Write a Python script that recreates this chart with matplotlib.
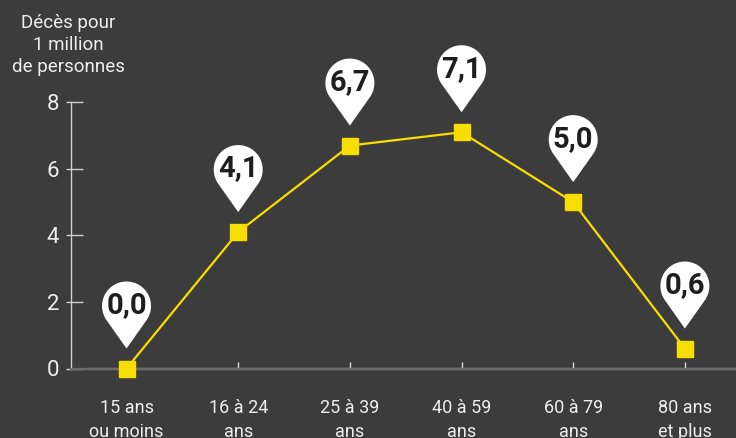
import matplotlib
matplotlib.use("Agg")
import matplotlib.pyplot as plt
import matplotlib.transforms as mtransforms
from matplotlib.path import Path
from matplotlib.patches import PathPatch
import numpy as np

categories = ["15 ans\nou moins", "16 à 24\nans", "25 à 39\nans", "40 à 59\nans", "60 à 79\nans", "80 ans\net plus"]
values = [0.0, 4.1, 6.7, 7.1, 5.0, 0.6]
labels = ["0,0", "4,1", "6,7", "7,1", "5,0", "0,6"]
yticks = [0, 2, 4, 6, 8]
ytitle = "Décès pour\n1 million\nde personnes"

BG = "#3c3c3c"
YEL = "#f8dd00"
AX = "#cfcfcf"
TXT = "#eeeeee"

plt.rcParams['font.family'] = ['Roboto', 'DejaVu Sans']

W, H = 736, 438
fig = plt.figure(figsize=(W / 100, H / 100), dpi=100, facecolor=BG)
x0 = 70.7
step = 111.67
ybot = 368.5
ytop = 102.3
ax = fig.add_axes([x0 / W, (H - ybot) / H, 6 * step / W, (ybot - ytop) / H])
ax.set_facecolor(BG)
ax.set_xlim(-0.5, 5.5)
ax.set_ylim(0, 8)

xs = np.arange(len(categories))
ax.plot(xs, values, color=YEL, lw=1.6, marker='s', ms=11.5, mec=YEL, mfc=YEL,
        clip_on=False, zorder=3)

# spines
for s in ['top', 'right']:
    ax.spines[s].set_visible(False)
ax.spines['left'].set_color(AX)
ax.spines['left'].set_linewidth(1.0)
ax.spines['bottom'].set_color("#6a6a6a")
ax.spines['bottom'].set_linewidth(1.6)
ax.plot([-0.352, 5.5], [0, 0], color="#c8c8c8", lw=1.6, clip_on=False, zorder=2,
        solid_capstyle='butt')

ax.set_yticks(yticks)
ax.set_yticklabels([str(t) for t in yticks], fontsize=16, color=TXT)
ax.tick_params(axis='y', which='major', direction='in', length=12 * 0.72, width=1.0,
               color=AX, pad=11.5 * 0.72)
ax.yaxis.remove_overlapping_locs = False
ax.set_yticks(yticks, minor=True)
ax.tick_params(axis='y', which='minor', direction='out', length=5 * 0.72, width=1.0,
               color=AX)

ax.set_xticks(xs)
ax.set_xticklabels(categories, fontsize=13, color=TXT, linespacing=1.45)
ax.tick_params(axis='x', which='major', direction='in', length=7 * 0.72, width=1.0,
               color="#d8d8d8", pad=22)

# pins
R = 24.5
CY = 62.5
TIP = 20.0
d = CY - TIP
th = np.degrees(np.arccos(R / d))
a1 = -90 + th
a2 = 270 - th
arc = Path.arc(a1, a2)
verts = arc.vertices * R + np.array([0, CY])
codes = list(arc.codes)
verts = np.vstack([verts, [[0, TIP]], [[0, TIP]]])
codes = codes + [Path.LINETO, Path.CLOSEPOLY]
pin = Path(verts, codes)

for x, v, lab in zip(xs, values, labels):
    tr = mtransforms.Affine2D().scale(fig.dpi / 100.0) + \
        mtransforms.ScaledTranslation(x, v, ax.transData)
    ax.add_patch(PathPatch(pin, transform=tr, facecolor='white', edgecolor='none',
                           clip_on=False, zorder=4))
    ax.annotate(lab, xy=(x, v), xytext=(0, (CY + 1) * 0.72), textcoords='offset points',
                ha='center', va='center', fontsize=21, fontweight='bold',
                family=['Roboto', 'DejaVu Sans'],
                color='#1e1e1e', zorder=5, annotation_clip=False)

fig.text(68 / W, 1 - 45 / H, ytitle, ha='center', va='center', fontsize=13.5,
         color=TXT, linespacing=1.3)

fig.savefig("out.png", dpi=100, facecolor=BG)
